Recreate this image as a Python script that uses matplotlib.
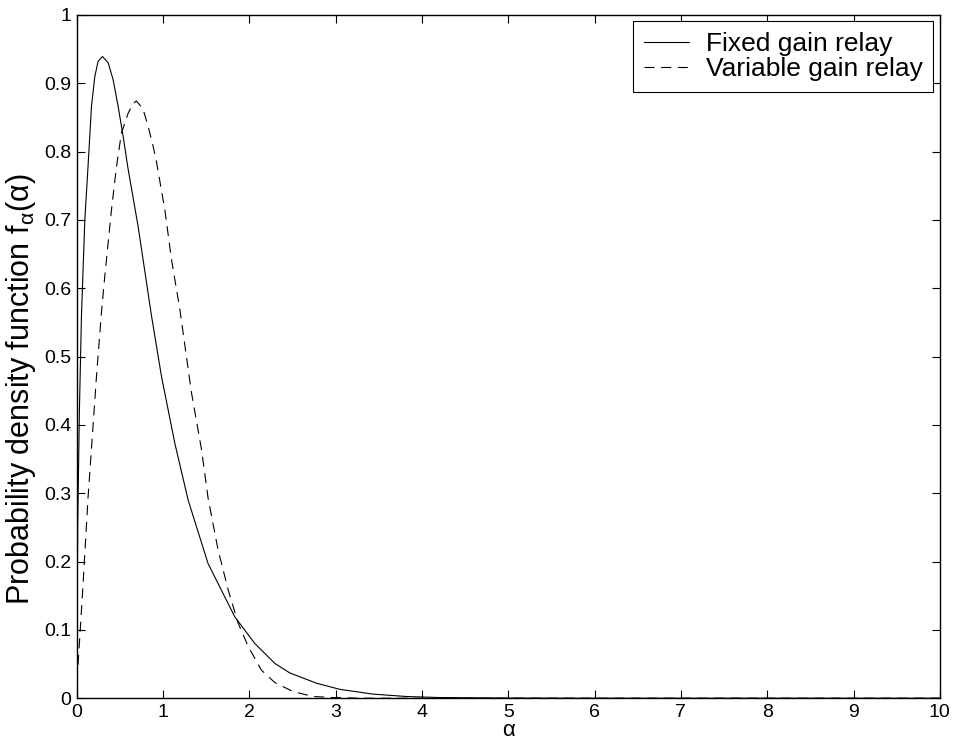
import matplotlib
matplotlib.use("Agg")
import matplotlib.pyplot as plt

plt.rcParams['font.family'] = ['Liberation Sans', 'DejaVu Sans']
plt.rcParams['mathtext.fontset'] = 'custom'
plt.rcParams['mathtext.rm'] = 'Liberation Sans'
plt.rcParams['mathtext.it'] = 'Liberation Sans'

# pdf of alpha, fixed gain relay
alpha_fixed = [0, 0.01, 0.03, 0.054, 0.093, 0.131, 0.17, 0.209, 0.247, 0.297,
               0.363, 0.421, 0.479, 0.537, 0.595, 0.711, 0.865, 0.981, 1.136,
               1.29, 1.521, 1.831, 2.063, 2.294, 2.468, 2.777, 3.048, 3.433,
               3.82, 4.2, 5, 6, 10]
pdf_fixed = [0, 0.25, 0.42, 0.56, 0.70, 0.78, 0.866, 0.91, 0.932, 0.939,
             0.93, 0.905, 0.866, 0.822, 0.774, 0.69, 0.56, 0.471, 0.373,
             0.29, 0.197, 0.119, 0.08, 0.051, 0.037, 0.022, 0.013, 0.006,
             0.0025, 0.001, 0.0002, 0, 0]

# pdf of alpha, variable gain relay
alpha_var = [0, 0.008, 0.035, 0.073, 0.131, 0.189, 0.228, 0.286, 0.324, 0.363,
             0.402, 0.46, 0.517, 0.595, 0.65, 0.691, 0.768, 0.826, 0.884,
             0.923, 1.02, 1.097, 1.194, 1.329, 1.445, 1.521, 1.637, 1.753,
             1.869, 1.985, 2.14, 2.294, 2.506, 2.738, 2.97, 3.3, 10]
pdf_var = [0, 0.037, 0.09, 0.168, 0.295, 0.40, 0.471, 0.565, 0.617, 0.666,
           0.715, 0.778, 0.827, 0.856, 0.87, 0.874, 0.862, 0.837, 0.808,
           0.785, 0.715, 0.642, 0.569, 0.447, 0.364, 0.293, 0.217, 0.159,
           0.11, 0.076, 0.041, 0.023, 0.0097, 0.0025, 0.001, 0, 0]

ytick_labels = ['0', '0.1', '0.2', '0.3', '0.4', '0.5', '0.6', '0.7', '0.8', '0.9', '1']

fig = plt.figure(figsize=(9.6, 7.42), dpi=100)
ax = fig.add_axes([0.080, 0.059, 0.899, 0.921])

ax.plot(alpha_fixed, pdf_fixed, '-', color='black', lw=0.8, label='Fixed gain relay')
ax.plot(alpha_var, pdf_var, '--', color='black', lw=0.8, dashes=(9, 6),
        label='Variable gain relay')

ax.set_xlim(0, 10)
ax.set_ylim(0, 1)
ax.set_xticks(range(0, 11))
ax.set_yticks([i / 10 for i in range(11)])
ax.set_yticklabels(ytick_labels)
ax.tick_params(direction='in', top=True, right=True, length=6, width=0.8,
               labelsize=14, pad=4)
for s in ax.spines.values():
    s.set_linewidth(1.0)

ax.set_xlabel('α', fontsize=16, va='bottom')
ax.xaxis.set_label_coords(0.5, -0.063)
ax.set_ylabel(r'Probability density function f$_{\mathrm{α}}$(α)', fontsize=22)
ax.yaxis.set_label_coords(-0.045, 0.452)

leg = ax.legend(loc='upper right', fontsize=19, fancybox=False, framealpha=1,
                edgecolor='black', borderpad=0.4, handlelength=1.7,
                handletextpad=0.65, labelspacing=0.05, borderaxespad=0.25)
leg.get_frame().set_linewidth(0.8)

fig.savefig('out.png', dpi=100)
